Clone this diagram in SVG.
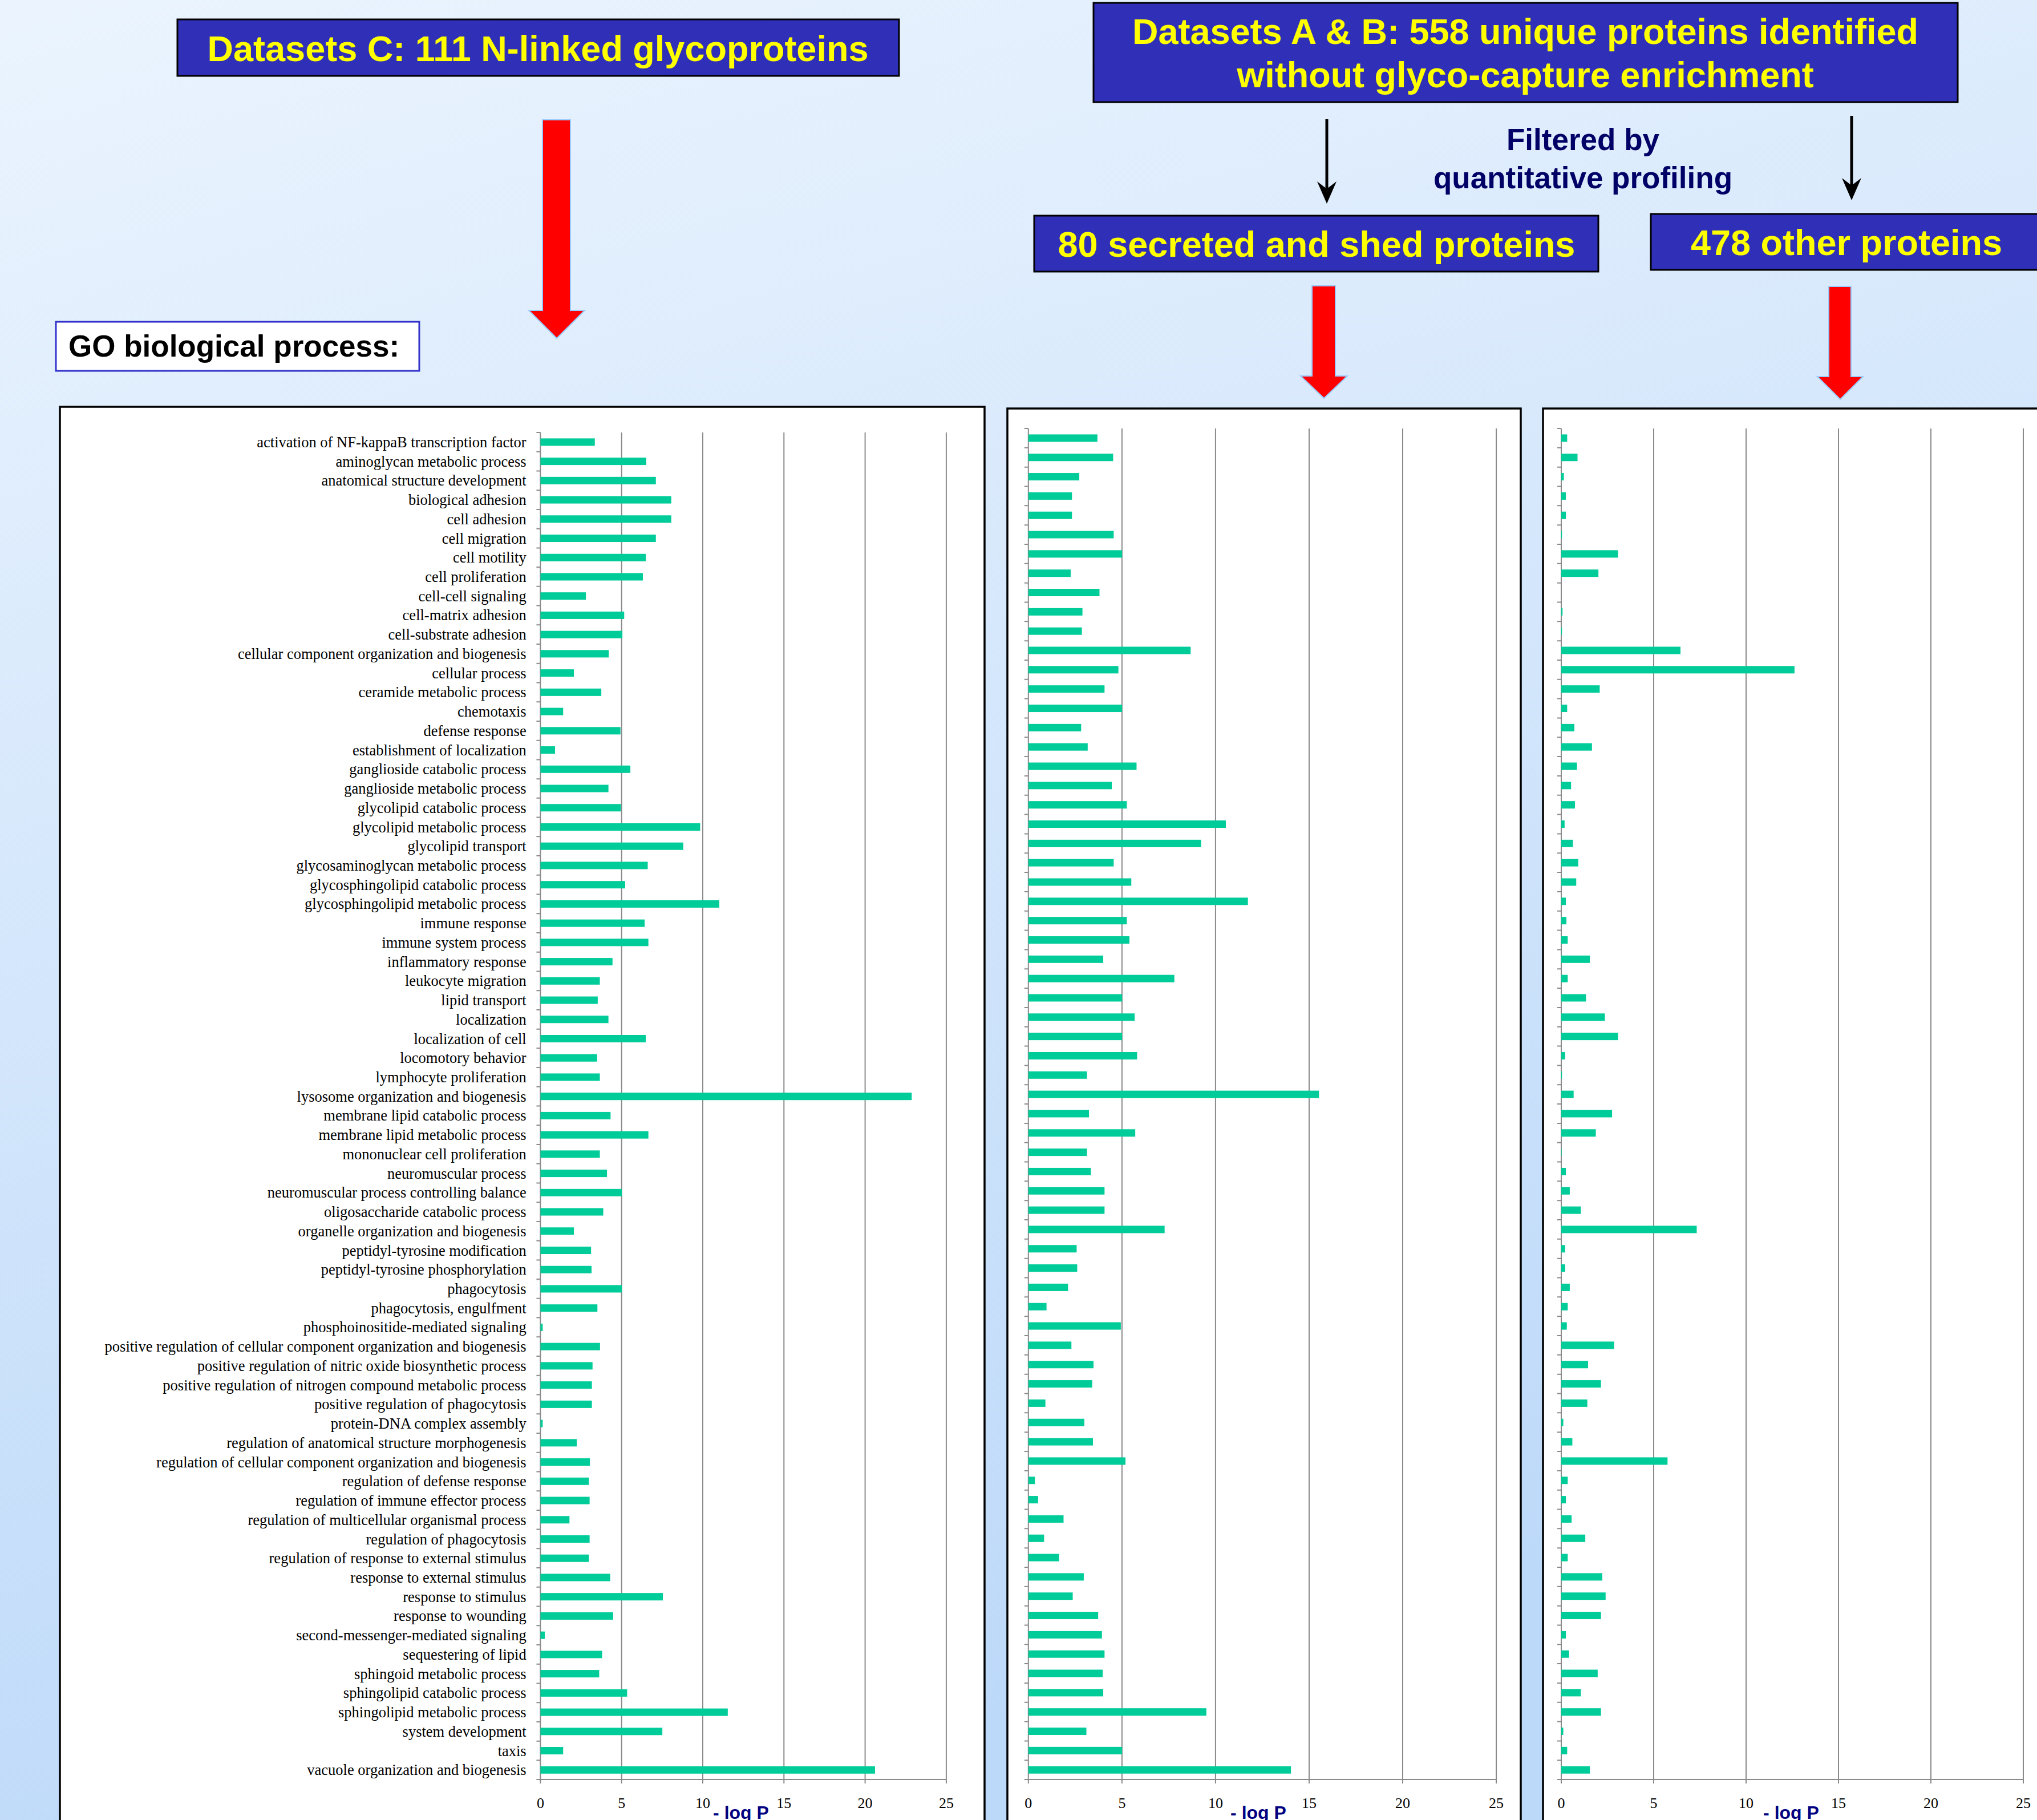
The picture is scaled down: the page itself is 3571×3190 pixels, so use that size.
<svg xmlns="http://www.w3.org/2000/svg" width="3571" height="3190" viewBox="0 0 3571 3190">
<defs>
<linearGradient id="bg" x1="0" y1="0" x2="0.3" y2="1">
<stop offset="0" stop-color="#ebf4fe"/>
<stop offset="1" stop-color="#bdd9f9"/>
</linearGradient>
</defs>
<style>
.tbox{fill:#2f2fb7;stroke:#000;stroke-width:3}
.ttl{font-family:"Liberation Sans",Arial,sans-serif;font-weight:bold;font-size:63px;fill:#ffff00;text-anchor:middle}
.flt{font-family:"Liberation Sans",Arial,sans-serif;font-weight:bold;font-size:53px;fill:#000066;text-anchor:middle}
.go{font-family:"Liberation Sans",Arial,sans-serif;font-weight:bold;font-size:53px;fill:#000}
.red{fill:#ff0000;stroke:#99ccff;stroke-width:2}
.panel{fill:#fff;stroke:#000;stroke-width:3.5}
.grid{stroke:#8a8a8a;stroke-width:2;fill:none}
.tick{stroke:#8a8a8a;stroke-width:7;fill:none}
.bars rect{fill:#00cc99}
.lab{font-family:"Liberation Serif","Times New Roman",serif;font-size:26.5px;fill:#000;text-anchor:end}
.num{font-family:"Liberation Serif","Times New Roman",serif;font-size:26px;fill:#000;text-anchor:middle}
.axt{font-family:"Liberation Sans",Arial,sans-serif;font-weight:bold;font-size:32px;fill:#000080;text-anchor:middle}
</style>
<rect x="0" y="0" width="3571" height="3190" fill="url(#bg)"/>

<g id="node-datasetC">
<rect class="tbox" x="311" y="34" width="1265" height="99"/>
<text class="ttl" x="943" y="107">Datasets C: 111 N-linked glycoproteins</text>
</g>
<g id="node-datasetAB">
<rect class="tbox" x="1917" y="5" width="1515" height="174"/>
<text class="ttl" x="2674" y="77">Datasets A &amp; B: 558 unique proteins identified</text>
<text class="ttl" x="2674" y="153">without glyco-capture enrichment</text>
</g>
<g id="node-filter">
<text class="flt" x="2775" y="263">Filtered by</text>
<text class="flt" x="2775" y="330">quantitative profiling</text>
</g>
<g id="node-secreted">
<rect class="tbox" x="1813" y="378" width="989" height="98"/>
<text class="ttl" x="2308" y="450">80 secreted and shed proteins</text>
</g>
<g id="node-other">
<rect class="tbox" x="2894" y="375" width="690" height="98"/>
<text class="ttl" x="3237" y="447">478 other proteins</text>
</g>
<g id="node-go">
<rect x="98" y="564" width="637" height="86" fill="#fff" stroke="#3333cc" stroke-width="3"/>
<text class="go" x="120" y="625">GO biological process:</text>
</g>

<g id="connectors">
<path class="red" d="M951,210 H1000 V544 H1025 L976,593 L927,544 H951 Z"/>
<path class="red" d="M2300,501 H2341 V659 H2362 L2321,698 L2280,659 H2300 Z"/>
<path class="red" d="M3206,502 H3245 V660 H3266 L3226,700 L3186,660 H3206 Z"/>
<line x1="2326" y1="209" x2="2326" y2="334" stroke="#000" stroke-width="5"/>
<path d="M2326,357 L2309,318 L2326,331 L2343,318 Z" fill="#000"/>
<line x1="3246" y1="203" x2="3246" y2="328" stroke="#000" stroke-width="5"/>
<path d="M3246,351 L3229,312 L3246,325 L3263,312 Z" fill="#000"/>
</g>

<g id="chart-C">
<rect class="panel" x="105" y="713" width="1621" height="2500"/>
<path class="grid" d="M1089.7,758V3119M1232,758V3119M1374.3,758V3119M1516.6,758V3119M1658.9,758V3119M947.4,758V3119H1658.9M947.4,3119V3126M1089.7,3119V3126M1232,3119V3126M1374.3,3119V3126M1516.6,3119V3126M1658.9,3119V3126"/>
<line class="tick" x1="943.9" y1="757" x2="943.9" y2="3120" stroke-dasharray="2 31.73"/>
<g class="bars" transform="translate(947.4 768.37) scale(28.46 33.73)">
<rect y="0" height="0.3854" width="3.35"/><rect y="1" height="0.3854" width="6.52"/><rect y="2" height="0.3854" width="7.11"/><rect y="3" height="0.3854" width="8.06"/><rect y="4" height="0.3854" width="8.06"/>
<rect y="5" height="0.3854" width="7.11"/><rect y="6" height="0.3854" width="6.49"/><rect y="7" height="0.3854" width="6.31"/><rect y="8" height="0.3854" width="2.80"/><rect y="9" height="0.3854" width="5.16"/>
<rect y="10" height="0.3854" width="5.05"/><rect y="11" height="0.3854" width="4.21"/><rect y="12" height="0.3854" width="2.06"/><rect y="13" height="0.3854" width="3.75"/><rect y="14" height="0.3854" width="1.40"/>
<rect y="15" height="0.3854" width="4.93"/><rect y="16" height="0.3854" width="0.90"/><rect y="17" height="0.3854" width="5.54"/><rect y="18" height="0.3854" width="4.19"/><rect y="19" height="0.3854" width="4.96"/>
<rect y="20" height="0.3854" width="9.84"/><rect y="21" height="0.3854" width="8.80"/><rect y="22" height="0.3854" width="6.61"/><rect y="23" height="0.3854" width="5.22"/><rect y="24" height="0.3854" width="11.02"/>
<rect y="25" height="0.3854" width="6.42"/><rect y="26" height="0.3854" width="6.65"/><rect y="27" height="0.3854" width="4.44"/><rect y="28" height="0.3854" width="3.66"/><rect y="29" height="0.3854" width="3.53"/>
<rect y="30" height="0.3854" width="4.19"/><rect y="31" height="0.3854" width="6.49"/><rect y="32" height="0.3854" width="3.49"/><rect y="33" height="0.3854" width="3.66"/><rect y="34" height="0.3854" width="22.87"/>
<rect y="35" height="0.3854" width="4.32"/><rect y="36" height="0.3854" width="6.65"/><rect y="37" height="0.3854" width="3.66"/><rect y="38" height="0.3854" width="4.10"/><rect y="39" height="0.3854" width="5.02"/>
<rect y="40" height="0.3854" width="3.87"/><rect y="41" height="0.3854" width="2.06"/><rect y="42" height="0.3854" width="3.12"/><rect y="43" height="0.3854" width="3.15"/><rect y="44" height="0.3854" width="5.02"/>
<rect y="45" height="0.3854" width="3.51"/><rect y="46" height="0.3854" width="0.14"/><rect y="47" height="0.3854" width="3.67"/><rect y="48" height="0.3854" width="3.21"/><rect y="49" height="0.3854" width="3.17"/>
<rect y="50" height="0.3854" width="3.17"/><rect y="51" height="0.3854" width="0.14"/><rect y="52" height="0.3854" width="2.24"/><rect y="53" height="0.3854" width="3.05"/><rect y="54" height="0.3854" width="2.99"/>
<rect y="55" height="0.3854" width="3.03"/><rect y="56" height="0.3854" width="1.79"/><rect y="57" height="0.3854" width="3.03"/><rect y="58" height="0.3854" width="2.99"/><rect y="59" height="0.3854" width="4.30"/>
<rect y="60" height="0.3854" width="7.54"/><rect y="61" height="0.3854" width="4.48"/><rect y="62" height="0.3854" width="0.27"/><rect y="63" height="0.3854" width="3.80"/><rect y="64" height="0.3854" width="3.62"/>
<rect y="65" height="0.3854" width="5.34"/><rect y="66" height="0.3854" width="11.54"/><rect y="67" height="0.3854" width="7.51"/><rect y="68" height="0.3854" width="1.40"/><rect y="69" height="0.3854" width="20.61"/>
</g>
<g class="labels">
<text class="lab" x="922.7" y="783.9">activation of NF-kappaB transcription factor</text>
<text class="lab" x="922.7" y="817.6">aminoglycan metabolic process</text>
<text class="lab" x="922.7" y="851.3">anatomical structure development</text>
<text class="lab" x="922.7" y="885.1">biological adhesion</text>
<text class="lab" x="922.7" y="918.8">cell adhesion</text>
<text class="lab" x="922.7" y="952.5">cell migration</text>
<text class="lab" x="922.7" y="986.3">cell motility</text>
<text class="lab" x="922.7" y="1020.0">cell proliferation</text>
<text class="lab" x="922.7" y="1053.7">cell-cell signaling</text>
<text class="lab" x="922.7" y="1087.4">cell-matrix adhesion</text>
<text class="lab" x="922.7" y="1121.2">cell-substrate adhesion</text>
<text class="lab" x="922.7" y="1154.9">cellular component organization and biogenesis</text>
<text class="lab" x="922.7" y="1188.6">cellular process</text>
<text class="lab" x="922.7" y="1222.4">ceramide metabolic process</text>
<text class="lab" x="922.7" y="1256.1">chemotaxis</text>
<text class="lab" x="922.7" y="1289.8">defense response</text>
<text class="lab" x="922.7" y="1323.6">establishment of localization</text>
<text class="lab" x="922.7" y="1357.3">ganglioside catabolic process</text>
<text class="lab" x="922.7" y="1391.0">ganglioside metabolic process</text>
<text class="lab" x="922.7" y="1424.7">glycolipid catabolic process</text>
<text class="lab" x="922.7" y="1458.5">glycolipid metabolic process</text>
<text class="lab" x="922.7" y="1492.2">glycolipid transport</text>
<text class="lab" x="922.7" y="1525.9">glycosaminoglycan metabolic process</text>
<text class="lab" x="922.7" y="1559.7">glycosphingolipid catabolic process</text>
<text class="lab" x="922.7" y="1593.4">glycosphingolipid metabolic process</text>
<text class="lab" x="922.7" y="1627.1">immune response</text>
<text class="lab" x="922.7" y="1660.9">immune system process</text>
<text class="lab" x="922.7" y="1694.6">inflammatory response</text>
<text class="lab" x="922.7" y="1728.3">leukocyte migration</text>
<text class="lab" x="922.7" y="1762.0">lipid transport</text>
<text class="lab" x="922.7" y="1795.8">localization</text>
<text class="lab" x="922.7" y="1829.5">localization of cell</text>
<text class="lab" x="922.7" y="1863.2">locomotory behavior</text>
<text class="lab" x="922.7" y="1897.0">lymphocyte proliferation</text>
<text class="lab" x="922.7" y="1930.7">lysosome organization and biogenesis</text>
<text class="lab" x="922.7" y="1964.4">membrane lipid catabolic process</text>
<text class="lab" x="922.7" y="1998.1">membrane lipid metabolic process</text>
<text class="lab" x="922.7" y="2031.9">mononuclear cell proliferation</text>
<text class="lab" x="922.7" y="2065.6">neuromuscular process</text>
<text class="lab" x="922.7" y="2099.3">neuromuscular process controlling balance</text>
<text class="lab" x="922.7" y="2133.1">oligosaccharide catabolic process</text>
<text class="lab" x="922.7" y="2166.8">organelle organization and biogenesis</text>
<text class="lab" x="922.7" y="2200.5">peptidyl-tyrosine modification</text>
<text class="lab" x="922.7" y="2234.3">peptidyl-tyrosine phosphorylation</text>
<text class="lab" x="922.7" y="2268.0">phagocytosis</text>
<text class="lab" x="922.7" y="2301.7">phagocytosis, engulfment</text>
<text class="lab" x="922.7" y="2335.4">phosphoinositide-mediated signaling</text>
<text class="lab" x="922.7" y="2369.2">positive regulation of cellular component organization and biogenesis</text>
<text class="lab" x="922.7" y="2402.9">positive regulation of nitric oxide biosynthetic process</text>
<text class="lab" x="922.7" y="2436.6">positive regulation of nitrogen compound metabolic process</text>
<text class="lab" x="922.7" y="2470.4">positive regulation of phagocytosis</text>
<text class="lab" x="922.7" y="2504.1">protein-DNA complex assembly</text>
<text class="lab" x="922.7" y="2537.8">regulation of anatomical structure morphogenesis</text>
<text class="lab" x="922.7" y="2571.6">regulation of cellular component organization and biogenesis</text>
<text class="lab" x="922.7" y="2605.3">regulation of defense response</text>
<text class="lab" x="922.7" y="2639.0">regulation of immune effector process</text>
<text class="lab" x="922.7" y="2672.7">regulation of multicellular organismal process</text>
<text class="lab" x="922.7" y="2706.5">regulation of phagocytosis</text>
<text class="lab" x="922.7" y="2740.2">regulation of response to external stimulus</text>
<text class="lab" x="922.7" y="2773.9">response to external stimulus</text>
<text class="lab" x="922.7" y="2807.7">response to stimulus</text>
<text class="lab" x="922.7" y="2841.4">response to wounding</text>
<text class="lab" x="922.7" y="2875.1">second-messenger-mediated signaling</text>
<text class="lab" x="922.7" y="2908.9">sequestering of lipid</text>
<text class="lab" x="922.7" y="2942.6">sphingoid metabolic process</text>
<text class="lab" x="922.7" y="2976.3">sphingolipid catabolic process</text>
<text class="lab" x="922.7" y="3010.0">sphingolipid metabolic process</text>
<text class="lab" x="922.7" y="3043.8">system development</text>
<text class="lab" x="922.7" y="3077.5">taxis</text>
<text class="lab" x="922.7" y="3111.2">vacuole organization and biogenesis</text>
</g>
<text class="num" x="947.4" y="3169">0</text><text class="num" x="1089.7" y="3169">5</text><text class="num" x="1232" y="3169">10</text><text class="num" x="1374.3" y="3169">15</text><text class="num" x="1516.6" y="3169">20</text><text class="num" x="1658.9" y="3169">25</text>
<text class="axt" x="1299" y="3188">- log P</text>
</g>

<g id="chart-secreted">
<rect class="panel" x="1766" y="716" width="900" height="2500"/>
<path class="grid" d="M1966.9,751V3119M2130.9,751V3119M2295,751V3119M2459,751V3119M2623.1,751V3119M1802.8,751V3119H2623.1M1802.8,3119V3126M1966.9,3119V3126M2130.9,3119V3126M2295,3119V3126M2459,3119V3126M2623.1,3119V3126"/>
<line class="tick" x1="1799.3" y1="750" x2="1799.3" y2="3120" stroke-dasharray="2 31.83"/>
<g class="bars" transform="translate(1802.8 761.4) scale(32.81 33.83)">
<rect y="0" height="0.3843" width="3.69"/><rect y="1" height="0.3843" width="4.53"/><rect y="2" height="0.3843" width="2.72"/><rect y="3" height="0.3843" width="2.33"/><rect y="4" height="0.3843" width="2.33"/>
<rect y="5" height="0.3843" width="4.56"/><rect y="6" height="0.3843" width="5.01"/><rect y="7" height="0.3843" width="2.26"/><rect y="8" height="0.3843" width="3.80"/><rect y="9" height="0.3843" width="2.89"/>
<rect y="10" height="0.3843" width="2.86"/><rect y="11" height="0.3843" width="8.67"/><rect y="12" height="0.3843" width="4.81"/><rect y="13" height="0.3843" width="4.07"/><rect y="14" height="0.3843" width="5.01"/>
<rect y="15" height="0.3843" width="2.82"/><rect y="16" height="0.3843" width="3.17"/><rect y="17" height="0.3843" width="5.78"/><rect y="18" height="0.3843" width="4.46"/><rect y="19" height="0.3843" width="5.26"/>
<rect y="20" height="0.3843" width="10.55"/><rect y="21" height="0.3843" width="9.23"/><rect y="22" height="0.3843" width="4.56"/><rect y="23" height="0.3843" width="5.50"/><rect y="24" height="0.3843" width="11.73"/>
<rect y="25" height="0.3843" width="5.26"/><rect y="26" height="0.3843" width="5.40"/><rect y="27" height="0.3843" width="4.00"/><rect y="28" height="0.3843" width="7.80"/><rect y="29" height="0.3843" width="5.01"/>
<rect y="30" height="0.3843" width="5.68"/><rect y="31" height="0.3843" width="5.01"/><rect y="32" height="0.3843" width="5.81"/><rect y="33" height="0.3843" width="3.13"/><rect y="34" height="0.3843" width="15.53"/>
<rect y="35" height="0.3843" width="3.24"/><rect y="36" height="0.3843" width="5.71"/><rect y="37" height="0.3843" width="3.13"/><rect y="38" height="0.3843" width="3.34"/><rect y="39" height="0.3843" width="4.07"/>
<rect y="40" height="0.3843" width="4.07"/><rect y="41" height="0.3843" width="7.28"/><rect y="42" height="0.3843" width="2.58"/><rect y="43" height="0.3843" width="2.61"/><rect y="44" height="0.3843" width="2.12"/>
<rect y="45" height="0.3843" width="0.97"/><rect y="46" height="0.3843" width="4.94"/><rect y="47" height="0.3843" width="2.30"/><rect y="48" height="0.3843" width="3.48"/><rect y="49" height="0.3843" width="3.41"/>
<rect y="50" height="0.3843" width="0.91"/><rect y="51" height="0.3843" width="2.99"/><rect y="52" height="0.3843" width="3.45"/><rect y="53" height="0.3843" width="5.19"/><rect y="54" height="0.3843" width="0.35"/>
<rect y="55" height="0.3843" width="0.52"/><rect y="56" height="0.3843" width="1.88"/><rect y="57" height="0.3843" width="0.84"/><rect y="58" height="0.3843" width="1.64"/><rect y="59" height="0.3843" width="2.96"/>
<rect y="60" height="0.3843" width="2.37"/><rect y="61" height="0.3843" width="3.73"/><rect y="62" height="0.3843" width="3.93"/><rect y="63" height="0.3843" width="4.07"/><rect y="64" height="0.3843" width="3.97"/>
<rect y="65" height="0.3843" width="4.00"/><rect y="66" height="0.3843" width="9.51"/><rect y="67" height="0.3843" width="3.10"/><rect y="68" height="0.3843" width="5.01"/><rect y="69" height="0.3843" width="14.03"/>
</g>
<text class="num" x="1802.8" y="3169">0</text><text class="num" x="1966.9" y="3169">5</text><text class="num" x="2130.9" y="3169">10</text><text class="num" x="2295" y="3169">15</text><text class="num" x="2459" y="3169">20</text><text class="num" x="2623.1" y="3169">25</text>
<text class="axt" x="2206" y="3188">- log P</text>
</g>

<g id="chart-other">
<rect class="panel" x="2705" y="716" width="1000" height="2500"/>
<path class="grid" d="M2899,751V3119M3061,751V3119M3223,751V3119M3385,751V3119M3547,751V3119M2737,751V3119H3547M2737,3119V3126M2899,3119V3126M3061,3119V3126M3223,3119V3126M3385,3119V3126M3547,3119V3126"/>
<line class="tick" x1="2733.5" y1="750" x2="2733.5" y2="3120" stroke-dasharray="2 31.83"/>
<g class="bars" transform="translate(2737 761.4) scale(32.4 33.83)">
<rect y="0" height="0.3843" width="0.32"/><rect y="1" height="0.3843" width="0.88"/><rect y="2" height="0.3843" width="0.14"/><rect y="3" height="0.3843" width="0.25"/><rect y="4" height="0.3843" width="0.25"/>
<rect y="5" height="0.3843" width="0.04"/><rect y="6" height="0.3843" width="3.07"/><rect y="7" height="0.3843" width="2.01"/><rect y="9" height="0.3843" width="0.07"/>
<rect y="10" height="0.3843" width="0.04"/><rect y="11" height="0.3843" width="6.45"/><rect y="12" height="0.3843" width="12.62"/><rect y="13" height="0.3843" width="2.08"/><rect y="14" height="0.3843" width="0.32"/>
<rect y="15" height="0.3843" width="0.71"/><rect y="16" height="0.3843" width="1.66"/><rect y="17" height="0.3843" width="0.85"/><rect y="18" height="0.3843" width="0.53"/><rect y="19" height="0.3843" width="0.74"/>
<rect y="20" height="0.3843" width="0.18"/><rect y="21" height="0.3843" width="0.63"/><rect y="22" height="0.3843" width="0.92"/><rect y="23" height="0.3843" width="0.81"/><rect y="24" height="0.3843" width="0.25"/>
<rect y="25" height="0.3843" width="0.28"/><rect y="26" height="0.3843" width="0.35"/><rect y="27" height="0.3843" width="1.55"/><rect y="28" height="0.3843" width="0.35"/><rect y="29" height="0.3843" width="1.34"/>
<rect y="30" height="0.3843" width="2.36"/><rect y="31" height="0.3843" width="3.07"/><rect y="32" height="0.3843" width="0.21"/><rect y="33" height="0.3843" width="0.04"/><rect y="34" height="0.3843" width="0.67"/>
<rect y="35" height="0.3843" width="2.75"/><rect y="36" height="0.3843" width="1.87"/><rect y="37" height="0.3843" width="0.02"/><rect y="38" height="0.3843" width="0.25"/><rect y="39" height="0.3843" width="0.46"/>
<rect y="40" height="0.3843" width="1.06"/><rect y="41" height="0.3843" width="7.33"/><rect y="42" height="0.3843" width="0.21"/><rect y="43" height="0.3843" width="0.21"/><rect y="44" height="0.3843" width="0.46"/>
<rect y="45" height="0.3843" width="0.35"/><rect y="46" height="0.3843" width="0.30"/><rect y="47" height="0.3843" width="2.86"/><rect y="48" height="0.3843" width="1.45"/><rect y="49" height="0.3843" width="2.15"/>
<rect y="50" height="0.3843" width="1.41"/><rect y="51" height="0.3843" width="0.11"/><rect y="52" height="0.3843" width="0.60"/><rect y="53" height="0.3843" width="5.75"/><rect y="54" height="0.3843" width="0.35"/>
<rect y="55" height="0.3843" width="0.25"/><rect y="56" height="0.3843" width="0.56"/><rect y="57" height="0.3843" width="1.30"/><rect y="58" height="0.3843" width="0.35"/><rect y="59" height="0.3843" width="2.22"/>
<rect y="60" height="0.3843" width="2.40"/><rect y="61" height="0.3843" width="2.15"/><rect y="62" height="0.3843" width="0.25"/><rect y="63" height="0.3843" width="0.42"/><rect y="64" height="0.3843" width="1.97"/>
<rect y="65" height="0.3843" width="1.06"/><rect y="66" height="0.3843" width="2.15"/><rect y="67" height="0.3843" width="0.11"/><rect y="68" height="0.3843" width="0.32"/><rect y="69" height="0.3843" width="1.55"/>
</g>
<text class="num" x="2737" y="3169">0</text><text class="num" x="2899" y="3169">5</text><text class="num" x="3061" y="3169">10</text><text class="num" x="3223" y="3169">15</text><text class="num" x="3385" y="3169">20</text><text class="num" x="3547" y="3169">25</text>
<text class="axt" x="3140" y="3188">- log P</text>
</g>
</svg>
